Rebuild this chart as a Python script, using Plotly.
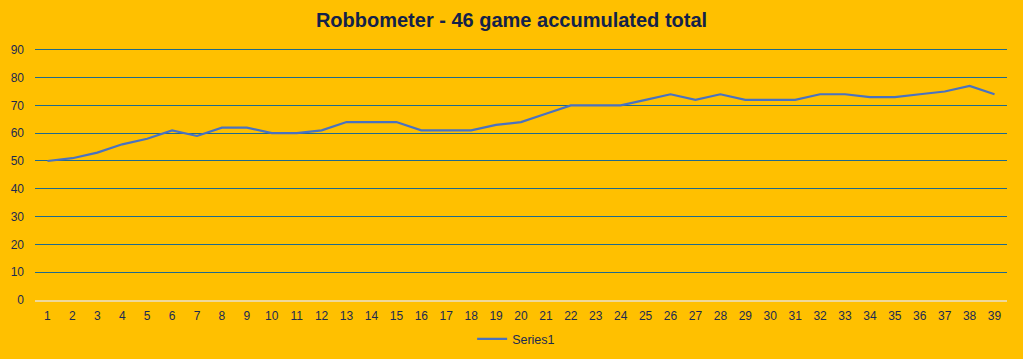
import plotly.graph_objects as go

games = list(range(1, 40))
totals = [50, 51, 53, 56, 58, 61, 59, 62, 62, 60,
          60, 61, 64, 64, 64, 61, 61, 61, 63, 64,
          67, 70, 70, 70, 72, 74, 72, 74, 72, 72,
          72, 74, 74, 73, 73, 74, 75, 77, 74]
y_ticks = [0, 10, 20, 30, 40, 50, 60, 70, 80, 90]
title_text = "Robbometer - 46 game accumulated total"

navy = "#1b2a52"
fig = go.Figure()
fig.add_trace(go.Scatter(
    x=[str(g) for g in games], y=totals, mode="lines", name="Series1",
    line=dict(color="#4a72c0", width=2.2),
))
fig.update_layout(
    width=1023, height=359,
    paper_bgcolor="#FFC000", plot_bgcolor="#FFC000",
    margin=dict(l=35, r=16, t=47, b=59, autoexpand=False),
    font=dict(family="Arial, Liberation Sans, sans-serif", color=navy, size=12),
    title=dict(text="<b>" + title_text + "</b>", x=0.5, xanchor="center",
               y=0.945, yanchor="middle", font=dict(size=20, color="#13224a")),
    showlegend=True,
    legend=dict(orientation="h", x=0.495, xanchor="center", y=-0.155, yanchor="middle",
                bgcolor="rgba(0,0,0,0)", font=dict(size=12.5, color=navy)),
    xaxis=dict(type="category", showgrid=False, zeroline=False, showline=True,
               linecolor="#efd99a", linewidth=1.5, ticks="", ticklabelstandoff=4,
               range=[-0.5, len(games) - 0.5], automargin=False),
    yaxis=dict(range=[0, 91], tickvals=y_ticks, showgrid=True, gridcolor="#1f6a8c",
               gridwidth=1, zeroline=False, showline=False, ticks="",
               ticklabelstandoff=10, automargin=False),
)
fig.write_html("out.html", config={"displayModeBar": False},
               post_script="document.body.style.margin='0';document.body.style.overflow='hidden';")
